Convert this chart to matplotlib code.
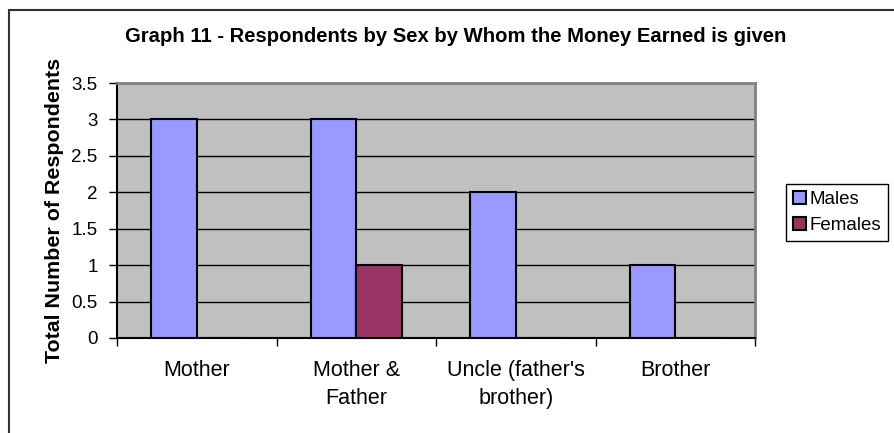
import numpy as np
import matplotlib
matplotlib.use("Agg")
import matplotlib.pyplot as plt
from matplotlib.patches import Rectangle, Patch

plt.rcParams["font.family"] = ["Liberation Sans", "DejaVu Sans"]

categories = ["Mother", "Mother &\nFather", "Uncle (father's\nbrother)", "Brother"]
males = [3, 3, 2, 1]
females = [0, 1, 0, 0]
yticks = [0, 0.5, 1, 1.5, 2, 2.5, 3, 3.5]

male_color = "#9999FF"
female_color = "#993366"

fig = plt.figure(figsize=(8.94, 4.33), dpi=100)
ax = fig.add_axes([117 / 894, 95 / 433, 638 / 894, 255 / 433])
ax.set_facecolor("#C0C0C0")

x = np.arange(len(categories))
w = 1 / 3.5
ax.bar(x - w / 2, males, w, color=male_color, edgecolor="black", linewidth=1.5, zorder=3)
ax.bar(x + w / 2, females, w, color=female_color, edgecolor="black", linewidth=1.5, zorder=3)

ax.set_xlim(-0.5, len(categories) - 0.5)
ax.set_ylim(0, 3.5)
ax.set_yticks(yticks)
ax.set_yticklabels(["%g" % v for v in yticks], fontsize=13.5)
ax.tick_params(axis="y", direction="out", length=6, width=1, pad=8)
ax.yaxis.grid(True, color="black", linewidth=1, zorder=1)
ax.set_axisbelow(True)

ax.set_xticks(x)
ax.set_xticklabels(categories, fontsize=15.5, linespacing=1.4)
ax.tick_params(axis="x", which="major", length=0, pad=16)
ax.set_xticks(np.arange(-0.5, len(categories)), minor=True)
ax.tick_params(axis="x", which="minor", direction="out", length=6, width=1)

for s in ["left", "bottom"]:
    ax.spines[s].set_color("black")
    ax.spines[s].set_linewidth(1.5)
for s in ["top", "right"]:
    ax.spines[s].set_color("#808080")
    ax.spines[s].set_linewidth(2)

ax.set_ylabel("Total Number of Respondents", fontsize=15.4, fontweight="bold", labelpad=5)

fig.text(456 / 894, 1 - 37 / 433, "Graph 11 - Respondents by Sex by Whom the Money Earned is given",
         fontsize=14.6, fontweight="bold", ha="center", va="center")

handles = [Patch(facecolor=male_color, edgecolor="black", linewidth=1.5),
           Patch(facecolor=female_color, edgecolor="black", linewidth=1.5)]
leg = fig.legend(handles, ["Males", "Females"], loc="upper left",
                 bbox_to_anchor=(786 / 894, 1 - 184 / 433), fontsize=13.5,
                 frameon=True, fancybox=False, edgecolor="black", framealpha=1,
                 handlelength=0.7, handleheight=0.7, handletextpad=0.2,
                 borderpad=0.35, labelspacing=0.5, borderaxespad=0)
leg.get_frame().set_linewidth(1)

fig.patches.append(Rectangle((9 / 894, -0.1), 1.1, 1.1 - 10 / 433, transform=fig.transFigure,
                             fill=False, edgecolor="#333333", linewidth=1.5))

fig.savefig("out.png", dpi=100)
